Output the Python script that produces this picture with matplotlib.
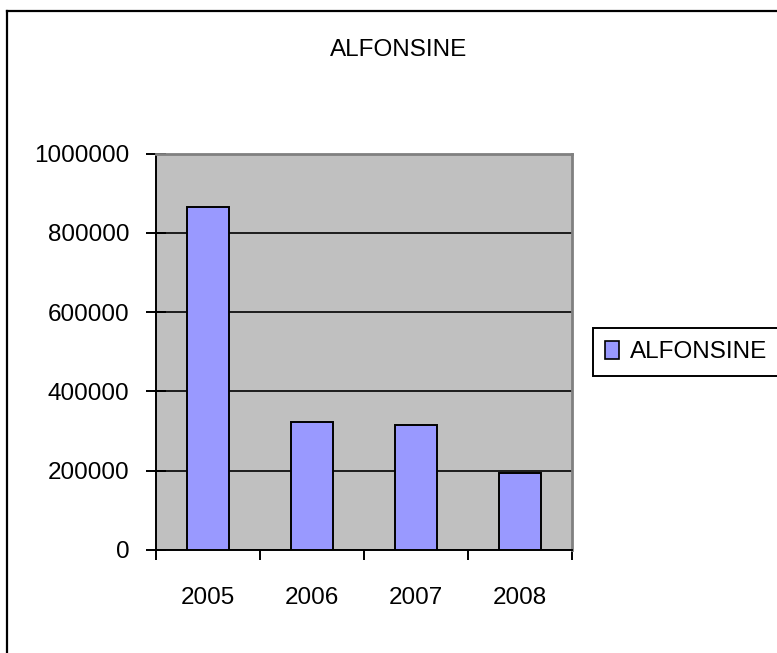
import matplotlib
matplotlib.use("Agg")
import matplotlib.pyplot as plt
from matplotlib.lines import Line2D
from matplotlib.patches import Patch

years = ["2005", "2006", "2007", "2008"]
values = [864000, 323000, 314000, 193000]
series_name = "ALFONSINE"
y_ticks = [0, 200000, 400000, 600000, 800000, 1000000]

plt.rcParams['font.family'] = ['Liberation Sans Narrow', 'Liberation Sans', 'DejaVu Sans']
fs = 17.5

W, H = 777, 653
fig = plt.figure(figsize=(W / 100, H / 100), dpi=100)

# outer chart border (cut at right and bottom)
fig.add_artist(Line2D([7 / W, 7 / W], [0, 1 - 11 / H], color='black', lw=1.6,
                      transform=fig.transFigure))
fig.add_artist(Line2D([7 / W, 1], [1 - 11 / H, 1 - 11 / H], color='black', lw=1.6,
                      transform=fig.transFigure))

ax = fig.add_axes([156 / W, 1 - 550 / H, 416 / W, 396.5 / H])
ax.set_facecolor('#C0C0C0')

x = range(len(years))
ax.bar(x, values, width=0.4, color='#9999FF', edgecolor='black', linewidth=1.4,
       zorder=3, label=series_name)

ax.set_xlim(-0.5, len(years) - 0.5)
ax.set_ylim(0, 1000000)
ax.set_yticks(y_ticks)
ax.set_yticklabels([str(v) for v in y_ticks], fontsize=fs)
ax.yaxis.grid(True, color='black', linewidth=1.2, zorder=1)
ax.set_axisbelow(True)

# x ticks at category boundaries, labels at centres
ax.set_xticks([i - 0.5 for i in range(len(years) + 1)])
ax.set_xticklabels([])
ax.set_xticks(list(x), minor=True)
ax.set_xticklabels(years, minor=True, fontsize=fs)
ax.tick_params(axis='x', which='major', direction='out', length=7, width=1.4)
ax.tick_params(axis='x', which='minor', length=0, pad=27)
ax.tick_params(axis='y', direction='inout', length=14, width=1.4, pad=12)

for s in ['left', 'bottom']:
    ax.spines[s].set_color('black')
    ax.spines[s].set_linewidth(1.4)
for s in ['top', 'right']:
    ax.spines[s].set_color('#808080')
    ax.spines[s].set_linewidth(2)

fig.text(399 / W, 1 - 49.5 / H, series_name, ha='center', va='center', fontsize=fs)

leg = fig.legend(handles=[Patch(facecolor='#9999FF', edgecolor='black', linewidth=1.2,
                                label=series_name)],
                 loc='center left', bbox_to_anchor=(593 / W, 1 - 352 / H),
                 fontsize=fs, fancybox=False, framealpha=1, edgecolor='black',
                 handlelength=0.58, handleheight=0.82, handletextpad=0.45,
                 borderpad=0.5, borderaxespad=0)
leg.get_frame().set_linewidth(1.4)

fig.savefig("out.png", dpi=100)
